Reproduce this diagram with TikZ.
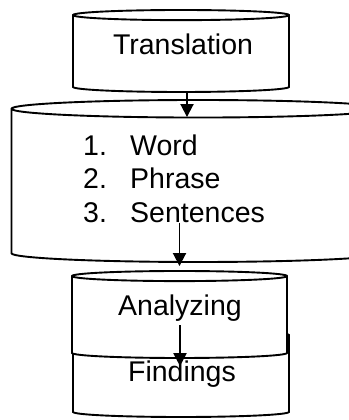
\documentclass[tikz,border=0pt]{standalone}
\usepackage{fontspec}
\setmainfont{Liberation Sans}
\usetikzlibrary{shapes.geometric, arrows.meta, positioning, calc}

\begin{document}
\begin{tikzpicture}[
  x=1pt, y=1pt,
  cyl/.style={cylinder, shape border rotate=90, draw, fill=white, line width=1.9pt, aspect=0.047, inner ysep=0pt, anchor=shape center},
  lbl/.style={font=\fontsize{28.5}{33.5}\selectfont, inner sep=3pt},
  arr/.style={-{Triangle[width=13pt, length=13pt]}, line width=1.9pt}
]
\useasboundingbox (0,0) rectangle (348,420);
\node[cyl, inner xsep=108pt, minimum width=216pt, minimum height=82pt] (trans) at (181,369) {};
\node[cyl, inner xsep=186.5pt, minimum width=373pt, minimum height=162pt] (lst) at (198,239) {};
\node[cyl, inner xsep=108pt, minimum width=216pt, minimum height=87pt] (find) at (181,46.5) {};
\node[cyl, inner xsep=107.5pt, minimum width=215pt, minimum height=87pt] (anal) at (179.5,105.5) {};

\node[lbl, anchor=base] (transtxt) at (183,365) {Translation};
\node[lbl, anchor=north west, align=left, inner sep=0pt] (items) at (83,285.6)
  {\makebox[47pt][l]{1.}Word\\\makebox[47pt][l]{2.}Phrase\\\makebox[47pt][l]{3.}Sentences};
\node[lbl, anchor=base] (analtxt) at (180,104) {Analyzing};
\node[lbl, anchor=base] (findtxt) at (182,38) {Findings};

\draw[arr] ($(trans.south)+(6,0)$) -- ($(trans.south |- lst.north)+(6,-18)$);
\draw[arr] (items.south -| anal.north) -- ([yshift=4pt]anal.north);
\draw[arr, shorten >=-8pt] (analtxt.south) -- (analtxt.south |- findtxt.north);
\end{tikzpicture}
\end{document}
